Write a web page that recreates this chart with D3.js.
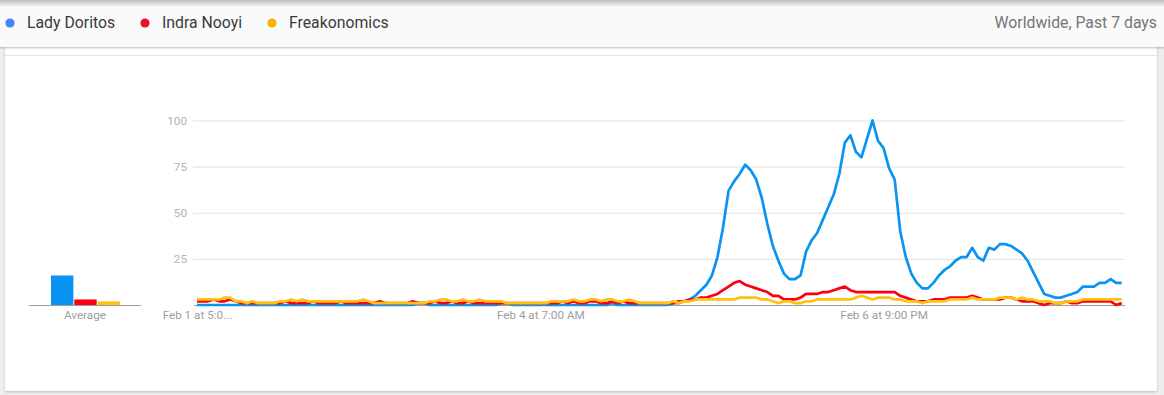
<!DOCTYPE html>
<html>
<head>
<meta charset="utf-8">
<script src="https://cdn.jsdelivr.net/npm/d3@7"></script>
<style>
  body { margin: 0; background: #eeeeee; }
  svg { display: block; font-family: Roboto, "Noto Sans", sans-serif; }
</style>
</head>
<body>
<div id="my_dataviz"></div>
<script>

// series names + legend colours
var seriesNames = ["Lady Doritos", "Indra Nooyi", "Freakonomics"];
var lineColors = ["#0a93f2", "#fc0011", "#ffc20e"];
var dotColors = ["#4285f4", "#e8112d", "#f6b400"];

// hourly interest, Feb 1 5 PM -> Feb 8 4 PM (168 points)
var ladyDoritos = [
  0,0,0,0,0,0,0,0,0,0,
  0,0,0,0,0,0,0,0,0,0,
  0,0,0,0,0,0,0,0,0,0,
  0,0,0,0,0,0,0,0,0,0,
  1,1,0,0,0,0,0,0,0,0,
  0,0,0,0,0,1,1,0,0,0,
  0,0,0,0,0,0,0,0,0,0,
  0,0,0,0,0,1,0,0,0,0,
  0,0,0,0,0,0,1,1,2,3,
  5,8,11,16,26,42,62,67,71,76,
  73,68,58,44,32,24,17,14,14,16,
  29,35,39,46,53,60,71,88,92,83,
  80,90,100,89,85,74,68,40,26,17,
  12,9,9,12,16,19,21,24,26,26,
  31,26,24,31,30,33,33,32,30,28,
  24,18,12,6,5,4,4,5,6,7,
  10,10,10,12,12,14,12,12
];
var indraNooyi = [
  2,2,2,3,2,2,3,2,1,1,
  1,1,1,1,1,1,2,1,1,1,
  1,2,1,1,1,1,2,1,1,1,
  1,1,1,2,1,1,1,1,1,2,
  1,1,1,2,1,1,2,1,1,2,
  1,1,1,1,1,1,1,1,1,1,
  1,1,1,1,1,1,2,1,2,1,
  1,2,2,1,1,2,1,2,1,1,
  1,1,1,1,1,1,1,2,2,3,
  3,4,4,5,6,8,10,12,13,11,
  10,9,8,7,5,5,3,3,3,4,
  6,6,6,7,7,8,9,10,8,7,
  7,7,7,7,7,7,7,5,4,3,
  2,2,2,3,3,3,4,4,4,4,
  5,4,3,3,3,3,4,4,3,2,
  2,2,1,0,1,1,1,2,1,1,
  2,2,2,2,2,2,0,1
];
var freakonomics = [
  3,3,3,3,3,4,4,2,2,1,
  2,1,1,1,1,2,2,3,2,3,
  2,2,2,2,2,2,2,2,2,2,
  3,2,1,1,1,1,1,1,1,1,
  1,1,2,2,3,3,2,2,3,2,
  2,3,2,2,2,2,1,1,1,1,
  1,1,1,1,2,2,2,2,3,2,
  2,3,3,2,3,3,2,2,3,2,
  1,1,1,1,1,1,2,1,2,2,
  3,3,3,3,3,3,3,3,4,4,
  4,4,3,3,2,1,2,2,1,1,
  2,2,3,3,3,3,3,3,3,4,
  5,4,3,4,4,4,3,3,2,2,
  2,1,2,2,2,2,3,3,3,3,
  4,3,3,3,3,4,4,4,3,4,
  3,3,2,2,2,1,1,2,2,2,
  3,3,3,3,3,3,3,3
];
var averages = [16, 3, 2];

// axis ticks
var yTicks = [25, 50, 75, 100];
var xTickHours = [0, 62, 124];
var xTickLabels = ["Feb 1 at 5:0...", "Feb 4 at 7:00 AM", "Feb 6 at 9:00 PM"];
var headerNote = "Worldwide, Past 7 days";

var width = 1164, height = 395;

var svg = d3.select("#my_dataviz")
  .append("svg")
    .attr("width", width)
    .attr("height", height);

var defs = svg.append("defs");
defs.append("filter").attr("id", "cardShadow")
    .attr("x", "-2%").attr("y", "-5%").attr("width", "104%").attr("height", "110%")
  .append("feDropShadow")
    .attr("dx", 0).attr("dy", 1).attr("stdDeviation", 1)
    .attr("flood-color", "#000").attr("flood-opacity", 0.22);
defs.append("filter").attr("id", "headShadow")
    .attr("x", "-1%").attr("y", "-20%").attr("width", "102%").attr("height", "150%")
  .append("feDropShadow")
    .attr("dx", 0).attr("dy", 1).attr("stdDeviation", 1.2)
    .attr("flood-color", "#000").attr("flood-opacity", 0.25);
var topGrad = defs.append("linearGradient").attr("id", "topGrad")
    .attr("x1", 0).attr("y1", 0).attr("x2", 0).attr("y2", 1);
topGrad.append("stop").attr("offset", "0%").attr("stop-color", "#000").attr("stop-opacity", 0.25);
topGrad.append("stop").attr("offset", "100%").attr("stop-color", "#000").attr("stop-opacity", 0);

// page background + white card
svg.append("rect").attr("width", width).attr("height", height).attr("fill", "#eeeeee");
svg.append("rect")
    .attr("x", 5).attr("y", 40).attr("width", 1152).attr("height", 351)
    .attr("rx", 2)
    .attr("fill", "#fff")
    .attr("filter", "url(#cardShadow)");
svg.append("line")
    .attr("x1", 5).attr("x2", 1157).attr("y1", 55.5).attr("y2", 55.5)
    .attr("stroke", "#e3e3e3");

// header bar with legend
svg.append("rect")
    .attr("x", -5).attr("y", -5).attr("width", width + 10).attr("height", 52)
    .attr("fill", "#fafafa")
    .attr("filter", "url(#headShadow)");
svg.append("rect")
    .attr("width", width).attr("height", 7)
    .attr("fill", "url(#topGrad)");

var legendX = [10, 145, 272];
var legend = svg.append("g").selectAll("g")
  .data(seriesNames)
  .enter().append("g")
    .attr("transform", function(d, i) { return "translate(" + legendX[i] + ",0)"; });
legend.append("circle")
    .attr("cx", 0).attr("cy", 23).attr("r", 4.6)
    .attr("fill", function(d, i) { return dotColors[i]; });
legend.append("text")
    .attr("x", 17).attr("y", 28.2)
    .attr("font-size", 15.8)
    .attr("fill", "#3a3a3a")
    .text(function(d) { return d; });

svg.append("text")
    .attr("x", 1157).attr("y", 28.2)
    .attr("text-anchor", "end")
    .attr("font-size", 15.8)
    .attr("fill", "#757575")
    .text(headerNote);

// ---- average bars ----
var avgX = d3.scaleBand()
    .domain(seriesNames)
    .range([51, 120])
    .paddingInner(0.04);

var y = d3.scaleLinear()
    .domain([0, 100])
    .range([305, 120.5]);

svg.append("g").selectAll("rect")
  .data(averages)
  .enter().append("rect")
    .attr("x", function(d, i) { return avgX(seriesNames[i]); })
    .attr("width", avgX.bandwidth())
    .attr("y", function(d) { return y(d); })
    .attr("height", function(d) { return y(0) - y(d); })
    .attr("fill", function(d, i) { return lineColors[i]; });

svg.append("line")
    .attr("x1", 29).attr("x2", 141).attr("y1", 305.5).attr("y2", 305.5)
    .attr("stroke", "#9e9e9e");
svg.append("text")
    .attr("x", 85).attr("y", 318.5)
    .attr("text-anchor", "middle")
    .attr("font-size", 11.7)
    .attr("fill", "#9e9e9e")
    .text("Average");

// ---- line chart ----
var x = d3.scaleLinear()
    .domain([0, ladyDoritos.length - 1])
    .range([197, 1121.7]);

// gridlines + y labels
var grid = svg.append("g")
    .call(d3.axisLeft(y).tickValues(yTicks).tickSize(-(1125 - 193)).tickPadding(6))
    .attr("transform", "translate(193,0)");
grid.select(".domain").remove();
grid.selectAll(".tick line").attr("stroke", "#e0e0e0");
grid.selectAll(".tick text")
    .attr("fill", "#b3b3b3")
    .attr("font-size", 11.7)
    .attr("font-family", "Roboto, sans-serif");

// baseline
svg.append("line")
    .attr("x1", 194).attr("x2", 1125).attr("y1", 305.5).attr("y2", 305.5)
    .attr("stroke", "#9e9e9e");

// x labels
var xAxis = svg.append("g")
    .attr("transform", "translate(0,305)")
    .call(d3.axisBottom(x).tickValues(xTickHours).tickSize(0).tickPadding(5.5)
      .tickFormat(function(d, i) { return xTickLabels[i]; }));
xAxis.select(".domain").remove();
xAxis.selectAll(".tick text")
    .attr("fill", "#9e9e9e")
    .attr("font-size", 11.7)
    .attr("font-family", "Roboto, sans-serif");

var line = d3.line()
    .x(function(d, i) { return x(i); })
    .y(function(d) { return y(d); });

svg.append("g").selectAll("path")
  .data([ladyDoritos, indraNooyi, freakonomics])
  .enter().append("path")
    .attr("d", line)
    .attr("fill", "none")
    .attr("stroke", function(d, i) { return lineColors[i]; })
    .attr("stroke-width", 2.7)
    .attr("stroke-linejoin", "round");

</script>
</body>
</html>
